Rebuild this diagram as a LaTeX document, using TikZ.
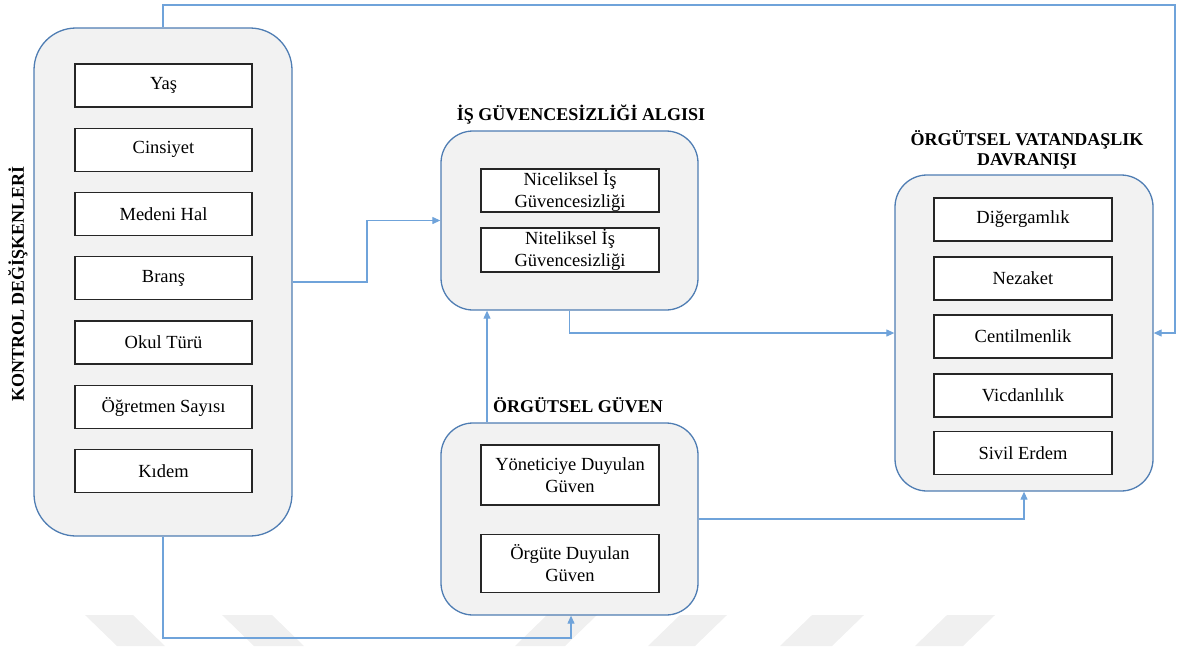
\documentclass[tikz,border=0pt]{standalone}
\usepackage{fontspec}
\setmainfont{Liberation Serif}
\usetikzlibrary{arrows.meta}
\definecolor{groupfill}{HTML}{F2F2F2}
\definecolor{groupline}{HTML}{4F7DB3}
\definecolor{linkcol}{HTML}{6FA3DA}
\definecolor{markcol}{HTML}{F0F0F0}
\begin{document}
\begin{tikzpicture}[x=1pt,y=-1pt,
  group/.style={draw=groupline, fill=groupfill, line width=1.3pt, rounded corners=32pt, inner sep=0pt},
  item/.style={draw=black!85, fill=white, line width=1.4pt, minimum width=178pt, minimum height=43pt,
    inner sep=0pt, align=center, font=\fontsize{18.5}{22}\selectfont},
  heading/.style={inner sep=0pt, align=center, font=\bfseries\fontsize{18}{20}\selectfont},
  link/.style={draw=linkcol, line width=1.1pt, -{Triangle[length=8pt,width=7pt]}}]
\useasboundingbox (0,0) rectangle (1177,646);

% faint chevrons along the bottom edge
\fill[markcol] (85,615) -- (133,615) -- (165,646) -- (117,646) -- cycle;
\fill[markcol] (222,615) -- (272,615) -- (304,646) -- (254,646) -- cycle;
\fill[markcol] (547,615) -- (597,615) -- (565,646) -- (515,646) -- cycle;
\fill[markcol] (680,615) -- (727,615) -- (695,646) -- (648,646) -- cycle;
\fill[markcol] (812,615) -- (864,615) -- (832,646) -- (780,646) -- cycle;
\fill[markcol] (947,615) -- (995,615) -- (963,646) -- (915,646) -- cycle;

% group containers
\node[group, rounded corners=42pt, minimum width=258pt, minimum height=508pt] (ctrl) at (163,282) {};
\node[group, minimum width=257pt, minimum height=179pt] (guv) at (569.5,220.5) {};
\node[group, minimum width=257pt, minimum height=192pt] (org) at (569.5,519) {};
\node[group, minimum width=258pt, minimum height=316pt] (ovd) at (1024,333) {};

% headings
\node[heading, rotate=90] (ctrlt) at (18,284) {KONTROL DEĞİŞKENLERİ};
\node[heading] (guvt) at (581,115) {İŞ GÜVENCESİZLİĞİ ALGISI};
\node[heading] (orgt) at (578,405) {ÖRGÜTSEL GÜVEN};
\node[heading] (ovdt) at (1027,150) {ÖRGÜTSEL VATANDAŞLIK\\DAVRANIŞI};

% control variables
\node[item, minimum width=177pt] (c1) at (163.5,85.5) {Yaş};
\node[item, minimum width=177pt] (c2) at (163.5,149.75) {Cinsiyet};
\node[item, minimum width=177pt] (c3) at (163.5,214) {Medeni Hal};
\node[item, minimum width=177pt] (c4) at (163.5,278.25) {Branş};
\node[item, minimum width=177pt] (c5) at (163.5,342.5) {Okul Türü};
\node[item, minimum width=177pt] (c6) at (163.5,406.75) {Öğretmen Sayısı};
\node[item, minimum width=177pt] (c7) at (163.5,471) {Kıdem};

% job insecurity
\node[item] (g1) at (570,190.5) {Niceliksel İş\\Güvencesizliği};
\node[item, minimum height=44pt] (g2) at (570,250) {Niteliksel İş\\Güvencesizliği};

% organisational trust
\node[item, minimum height=60pt] (o1) at (570,475) {Yöneticiye Duyulan\\Güven};
\node[item, minimum height=58pt] (o2) at (570,563.5) {Örgüte Duyulan\\Güven};

% organisational citizenship behaviour
\node[item] (v1) at (1023,219.5) {Diğergamlık};
\node[item] (v2) at (1023,278.5) {Nezaket};
\node[item] (v3) at (1023,336.5) {Centilmenlik};
\node[item] (v4) at (1023,395.5) {Vicdanlılık};
\node[item] (v5) at (1023,453) {Sivil Erdem};

% connectors
\coordinate (ctrlbend) at (367,282);
\coordinate (topright) at (1175,5);
\coordinate (bottomleft) at (163,638);
\draw[link] (ctrl.east) -- (ctrlbend) |- (guv.west);
\draw[link] (ctrl.north) |- (topright) |- (ovd.east);
\draw[link] (ctrl.south) -- (bottomleft) -| ([xshift=1.5pt]org.south);
\draw[link] (guv.south) |- (ovd.west);
\draw[link] ([xshift=-82.5pt]org.north) -- ([xshift=-82.5pt]guv.south);
\draw[link] (org.east) -| (ovd.south);
\end{tikzpicture}
\end{document}
